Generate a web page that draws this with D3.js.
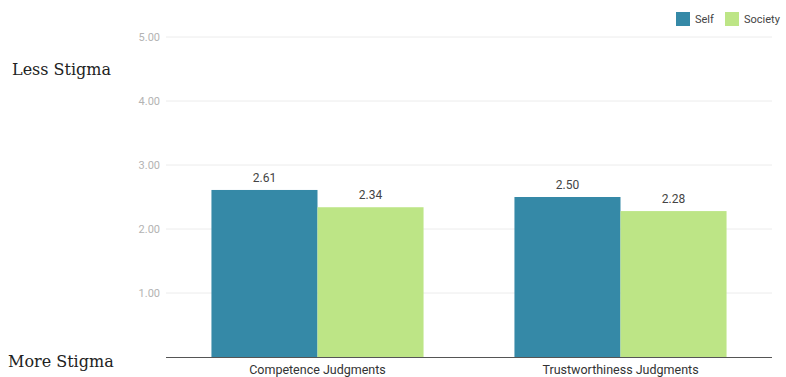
<!DOCTYPE html>
<html>
<head>
<meta charset="utf-8">
<script src="https://cdn.jsdelivr.net/npm/d3@7"></script>
<style>
  body { margin: 0; background: #fff; }
  svg { display: block; }
</style>
</head>
<body>
<svg id="chart"></svg>
<script>
// data
const categories = ['Competence Judgments', 'Trustworthiness Judgments'];
const seriesNames = ['Self', 'Society'];
const selfValues = [2.61, 2.50];
const societyValues = [2.34, 2.28];
const yTicks = [1, 2, 3, 4, 5];
const colors = ['#3589a7', '#bde586'];

const data = categories.map((c, i) => ({ cat: c, vals: [selfValues[i], societyValues[i]] }));

const W = 786, H = 377;
let margin = {top: 37, right: 14, bottom: 20, left: 166},
    width = W - margin.left - margin.right,
    height = 357 - margin.top;

let svg = d3.select('#chart').attr('width', W).attr('height', H);

let g = svg.append('g')
    .attr('transform', 'translate(' + margin.left + ',' + margin.top + ')');

let x0 = d3.scaleBand().domain(categories).range([0, width]).paddingInner(0.3).paddingOuter(0.15);
let x1 = d3.scaleBand().domain(seriesNames).range([0, x0.bandwidth()]);
let y = d3.scaleLinear().domain([0, 5]).range([height, 0]);

// gridlines
g.selectAll('.grid')
    .data(yTicks)
    .enter()
    .append('line')
    .attr('x1', 0).attr('x2', width)
    .attr('y1', d => y(d)).attr('y2', d => y(d))
    .attr('stroke', '#ececec')
    .attr('stroke-width', 1);

// y tick labels
g.selectAll('.ytick')
    .data(yTicks)
    .enter()
    .append('text')
    .attr('x', -6)
    .attr('y', d => y(d))
    .attr('dy', '0.35em')
    .attr('text-anchor', 'end')
    .attr('font-family', 'Roboto, sans-serif')
    .attr('font-size', '11px')
    .attr('fill', '#b3b3b3')
    .text(d => d.toFixed(2));

// bars
let groups = g.selectAll('.grp')
    .data(data)
    .enter()
    .append('g')
    .attr('transform', d => 'translate(' + x0(d.cat) + ',0)');

groups.selectAll('rect')
    .data(d => d.vals.map((v, i) => ({ key: seriesNames[i], v: v, i: i })))
    .enter()
    .append('rect')
    .attr('x', d => x1(d.key))
    .attr('width', x1.bandwidth())
    .attr('y', d => y(d.v))
    .attr('height', d => height - y(d.v))
    .attr('fill', d => colors[d.i]);

groups.selectAll('.val')
    .data(d => d.vals.map((v, i) => ({ key: seriesNames[i], v: v })))
    .enter()
    .append('text')
    .attr('x', d => x1(d.key) + x1.bandwidth() / 2)
    .attr('y', d => y(d.v) - 8)
    .attr('text-anchor', 'middle')
    .attr('font-family', 'Roboto, sans-serif')
    .attr('font-size', '12px')
    .attr('fill', '#444')
    .text(d => d.v.toFixed(2));

// x axis
g.append('line')
    .attr('x1', 0).attr('x2', width)
    .attr('y1', height + 0.5).attr('y2', height + 0.5)
    .attr('stroke', '#555')
    .attr('stroke-width', 1);

g.selectAll('.xlab')
    .data(categories)
    .enter()
    .append('text')
    .attr('x', d => x0(d) + x0.bandwidth() / 2)
    .attr('y', height + 17)
    .attr('text-anchor', 'middle')
    .attr('font-family', 'Roboto, sans-serif')
    .attr('font-size', '12.5px')
    .attr('fill', '#333')
    .text(d => d);

// legend
let legendX = [676, 725];
let leg = svg.selectAll('.leg')
    .data(seriesNames)
    .enter()
    .append('g')
    .attr('transform', (d, i) => 'translate(' + legendX[i] + ',12)');
leg.append('rect')
    .attr('width', 14).attr('height', 14)
    .attr('fill', (d, i) => colors[i]);
leg.append('text')
    .attr('x', 19).attr('y', 11)
    .attr('font-family', 'Roboto, sans-serif')
    .attr('font-size', '11px')
    .attr('fill', '#444')
    .text(d => d);

// side annotations
svg.append('text')
    .attr('x', 12).attr('y', 75)
    .attr('font-family', '"DejaVu Serif", serif')
    .attr('font-size', '16px')
    .attr('fill', '#222')
    .text('Less Stigma');
svg.append('text')
    .attr('x', 8).attr('y', 367)
    .attr('font-family', '"DejaVu Serif", serif')
    .attr('font-size', '16px')
    .attr('fill', '#222')
    .text('More Stigma');
</script>
</body>
</html>
